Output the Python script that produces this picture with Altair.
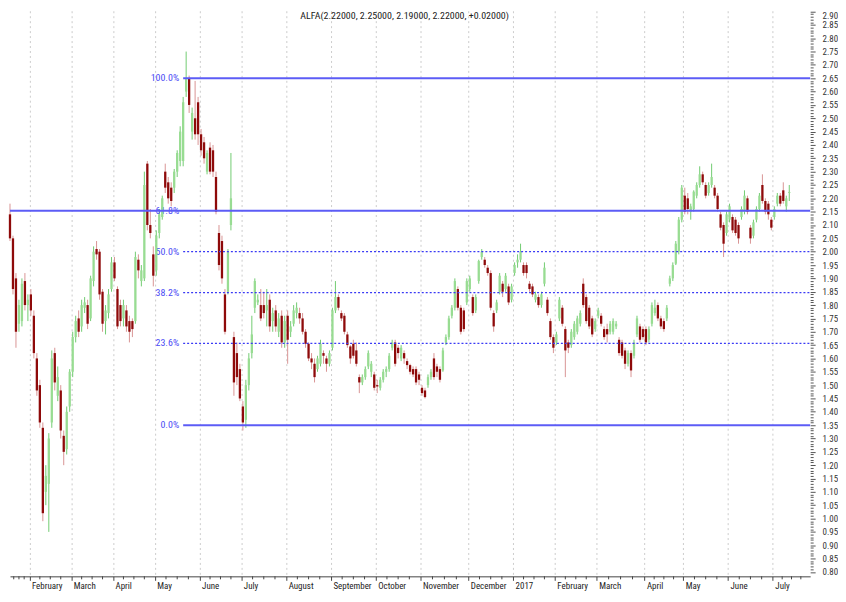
import altair as alt
import pandas as pd

FONT = "Liberation Sans Narrow, Arial Narrow, Roboto Condensed, Noto Sans Condensed, Liberation Sans, Arial, sans-serif"

# candles per month (first = partial January 2016)
month_counts = [7, 14, 14, 14, 15, 14, 15, 15, 15, 15, 16, 15, 14, 14, 16, 13, 15, 15, 6]
month_labels = ["February", "March", "April", "May", "June", "July", "August", "September",
                "October", "November", "December", "2017", "February", "March", "April",
                "May", "June", "July"]

opens = [
    2.14, 2.05, 1.90, 1.73, 1.74, 1.89, 1.80,
    1.84, 1.76, 1.60, 1.50, 1.34, 1.10, 1.13, 1.36, 1.62, 1.46, 1.48, 1.31, 1.26, 1.42,
    1.55, 1.68, 1.75, 1.72, 1.79, 1.80, 1.75, 1.89, 2.01, 2.00, 1.85, 1.74, 1.77, 1.86,
    1.96, 1.86, 1.80, 1.75, 1.78, 1.74, 1.74, 1.74, 1.97, 1.89, 1.90, 2.33, 2.10, 1.99,
    1.93, 2.07, 2.13, 2.30, 2.26, 2.24, 2.24, 2.30, 2.34, 2.34, 2.60, 2.65, 2.45, 2.50, 2.56,
    2.44, 2.41, 2.30, 2.39, 2.38, 2.28, 2.07, 2.04, 1.84, 1.85, 2.10, 1.68, 1.62, 1.56,
    1.42, 1.37, 1.50, 1.62, 1.79, 1.81, 1.80, 1.80, 1.78, 1.82, 1.74, 1.78, 1.70, 1.76, 1.66,
    1.76, 1.70, 1.73, 1.77, 1.77, 1.75, 1.70, 1.655, 1.60, 1.58, 1.56, 1.58, 1.62, 1.60, 1.58,
    1.64, 1.78, 1.83, 1.77, 1.76, 1.69, 1.645, 1.655, 1.63, 1.53, 1.51, 1.53, 1.57, 1.55, 1.54,
    1.50, 1.49, 1.52, 1.55, 1.56, 1.64, 1.66, 1.64, 1.60, 1.62, 1.59, 1.575, 1.56, 1.56, 1.54,
    1.49, 1.48, 1.50, 1.53, 1.60, 1.57, 1.56, 1.555, 1.66, 1.68, 1.76, 1.79, 1.86, 1.79, 1.78, 1.81,
    1.86, 1.83, 1.78, 1.89, 1.98, 1.97, 1.94, 1.92, 1.77, 1.78, 1.85, 1.88, 1.86, 1.87, 1.82,
    1.92, 1.96, 1.97, 1.95, 1.95, 1.88, 1.87, 1.82, 1.83, 1.80, 1.88, 1.82, 1.74, 1.68,
    1.66, 1.75, 1.79, 1.71, 1.66, 1.65, 1.68, 1.70, 1.73, 1.88, 1.83, 1.79, 1.75, 1.71,
    1.76, 1.76, 1.71, 1.71, 1.70, 1.70, 1.72, 1.67, 1.66, 1.63, 1.58, 1.62, 1.61, 1.69, 1.72, 1.71,
    1.71, 1.67, 1.73, 1.77, 1.80, 1.75, 1.74, 1.75, 1.88, 1.90, 1.955, 2.00, 2.12,
    2.21, 2.20, 2.15, 2.16, 2.21, 2.25, 2.29, 2.25, 2.22, 2.25, 2.24, 2.21, 2.14, 2.10, 2.07,
    2.12, 2.13, 2.12, 2.10, 2.13, 2.15, 2.20, 2.09, 2.06, 2.12, 2.16, 2.25, 2.19, 2.18, 2.12,
    2.13, 2.18, 2.21, 2.23, 2.17, 2.22,
]
highs = [
    2.18, 2.06, 1.92, 1.82, 1.90, 1.92, 1.84,
    1.86, 1.78, 1.62, 1.52, 1.36, 1.20, 1.32, 1.63, 1.64, 1.57, 1.50, 1.33, 1.42, 1.56,
    1.70, 1.76, 1.78, 1.82, 1.83, 1.82, 1.91, 2.02, 2.04, 2.01, 1.86, 1.80, 1.86, 1.98,
    1.98, 1.87, 1.82, 1.82, 1.80, 1.76, 1.75, 2.00, 1.99, 1.95, 2.30, 2.34, 2.16, 2.02,
    2.08, 2.16, 2.21, 2.33, 2.28, 2.26, 2.31, 2.38, 2.47, 2.58, 2.75, 2.66, 2.54, 2.64, 2.58,
    2.46, 2.43, 2.38, 2.41, 2.40, 2.30, 2.10, 2.06, 1.86, 2.01, 2.37, 1.70, 1.66, 1.58,
    1.44, 1.52, 1.62, 1.76, 1.90, 1.84, 1.86, 1.85, 1.86, 1.84, 1.79, 1.80, 1.77, 1.78, 1.76,
    1.78, 1.74, 1.80, 1.81, 1.79, 1.77, 1.71, 1.66, 1.62, 1.60, 1.61, 1.67, 1.63, 1.61, 1.63,
    1.79, 1.89, 1.84, 1.78, 1.77, 1.70, 1.65, 1.67, 1.66, 1.54, 1.54, 1.57, 1.63, 1.59, 1.55,
    1.52, 1.53, 1.56, 1.57, 1.62, 1.67, 1.67, 1.65, 1.65, 1.63, 1.60, 1.58, 1.57, 1.57, 1.55,
    1.50, 1.49, 1.54, 1.56, 1.62, 1.58, 1.57, 1.64, 1.69, 1.76, 1.80, 1.90, 1.87, 1.80, 1.79, 1.90,
    1.91, 1.84, 1.84, 1.97, 2.01, 1.98, 1.95, 1.93, 1.78, 1.82, 1.92, 1.89, 1.92, 1.88, 1.88,
    1.96, 1.99, 2.03, 1.96, 1.96, 1.89, 1.88, 1.85, 1.84, 1.85, 1.96, 1.83, 1.75, 1.69,
    1.70, 1.83, 1.80, 1.72, 1.67, 1.71, 1.74, 1.76, 1.78, 1.90, 1.84, 1.80, 1.76, 1.75,
    1.79, 1.77, 1.72, 1.73, 1.74, 1.75, 1.74, 1.68, 1.67, 1.64, 1.63, 1.63, 1.67, 1.76, 1.73, 1.72,
    1.72, 1.72, 1.81, 1.82, 1.81, 1.76, 1.75, 1.80, 1.91, 1.96, 2.04, 2.13, 2.25,
    2.24, 2.22, 2.18, 2.23, 2.26, 2.32, 2.30, 2.26, 2.26, 2.33, 2.25, 2.22, 2.15, 2.11, 2.15,
    2.18, 2.14, 2.13, 2.11, 2.17, 2.23, 2.21, 2.10, 2.12, 2.17, 2.22, 2.29, 2.20, 2.19, 2.13,
    2.17, 2.22, 2.22, 2.26, 2.21, 2.25,
]
lows = [
    2.04, 1.84, 1.64, 1.70, 1.72, 1.78, 1.74,
    1.76, 1.60, 1.46, 1.34, 0.99, 1.05, 0.95, 1.34, 1.48, 1.44, 1.30, 1.20, 1.24, 1.40,
    1.53, 1.66, 1.68, 1.70, 1.77, 1.71, 1.74, 1.87, 1.97, 1.82, 1.70, 1.69, 1.75, 1.85,
    1.89, 1.71, 1.72, 1.72, 1.70, 1.66, 1.68, 1.73, 1.90, 1.87, 1.89, 2.08, 2.05, 1.87,
    1.91, 2.05, 2.12, 2.22, 2.18, 2.17, 2.22, 2.28, 2.32, 2.32, 2.58, 2.52, 2.42, 2.42, 2.40,
    2.36, 2.33, 2.29, 2.29, 2.28, 2.14, 1.93, 1.88, 1.69, 1.84, 2.08, 1.46, 1.50, 1.44,
    1.33, 1.34, 1.48, 1.60, 1.77, 1.80, 1.74, 1.75, 1.72, 1.70, 1.70, 1.70, 1.68, 1.64, 1.64,
    1.58, 1.68, 1.72, 1.75, 1.73, 1.69, 1.64, 1.59, 1.56, 1.51, 1.55, 1.57, 1.58, 1.55, 1.57,
    1.63, 1.77, 1.78, 1.74, 1.69, 1.64, 1.58, 1.60, 1.57, 1.47, 1.50, 1.52, 1.56, 1.53, 1.48,
    1.47, 1.48, 1.51, 1.53, 1.55, 1.63, 1.57, 1.60, 1.59, 1.58, 1.56, 1.54, 1.53, 1.50, 1.50,
    1.46, 1.45, 1.49, 1.52, 1.52, 1.53, 1.51, 1.55, 1.65, 1.67, 1.75, 1.78, 1.78, 1.69, 1.70, 1.80,
    1.85, 1.76, 1.77, 1.88, 1.97, 1.94, 1.91, 1.78, 1.70, 1.77, 1.84, 1.83, 1.85, 1.80, 1.81,
    1.91, 1.94, 1.96, 1.91, 1.90, 1.85, 1.83, 1.81, 1.79, 1.79, 1.87, 1.76, 1.67, 1.62,
    1.65, 1.74, 1.72, 1.53, 1.62, 1.64, 1.67, 1.69, 1.72, 1.79, 1.73, 1.71, 1.68, 1.70,
    1.75, 1.72, 1.67, 1.66, 1.69, 1.69, 1.71, 1.61, 1.60, 1.56, 1.57, 1.53, 1.60, 1.68, 1.66, 1.67,
    1.65, 1.66, 1.72, 1.76, 1.74, 1.71, 1.70, 1.74, 1.87, 1.89, 1.95, 1.99, 2.11,
    2.14, 2.14, 2.12, 2.15, 2.20, 2.24, 2.25, 2.20, 2.21, 2.24, 2.20, 2.15, 2.08, 1.98, 2.06,
    2.11, 2.07, 2.06, 2.03, 2.12, 2.14, 2.14, 2.03, 2.05, 2.11, 2.15, 2.18, 2.14, 2.12, 2.08,
    2.12, 2.17, 2.17, 2.18, 2.15, 2.19,
]
closes = [
    2.05, 1.86, 1.70, 1.80, 1.88, 1.80, 1.82,
    1.78, 1.62, 1.48, 1.36, 1.02, 1.16, 1.30, 1.60, 1.51, 1.53, 1.33, 1.25, 1.40, 1.55,
    1.68, 1.74, 1.70, 1.80, 1.81, 1.73, 1.90, 2.00, 1.99, 1.84, 1.73, 1.78, 1.84, 1.96,
    1.90, 1.72, 1.74, 1.80, 1.72, 1.70, 1.71, 1.98, 1.93, 1.93, 2.25, 2.10, 2.07, 1.91,
    2.06, 2.14, 2.20, 2.24, 2.20, 2.19, 2.30, 2.37, 2.45, 2.56, 2.65, 2.55, 2.52, 2.44, 2.44,
    2.38, 2.35, 2.37, 2.30, 2.30, 2.15, 1.95, 1.90, 1.70, 2.00, 2.20, 1.51, 1.53, 1.45,
    1.36, 1.50, 1.60, 1.69, 1.89, 1.82, 1.75, 1.77, 1.80, 1.72, 1.77, 1.72, 1.75, 1.66, 1.74,
    1.67, 1.72, 1.78, 1.79, 1.75, 1.70, 1.655, 1.60, 1.585, 1.53, 1.60, 1.655, 1.61, 1.58, 1.62,
    1.78, 1.83, 1.79, 1.75, 1.70, 1.65, 1.60, 1.61, 1.58, 1.51, 1.53, 1.56, 1.62, 1.58, 1.49,
    1.495, 1.52, 1.55, 1.56, 1.61, 1.66, 1.58, 1.62, 1.64, 1.60, 1.575, 1.55, 1.54, 1.51, 1.52,
    1.47, 1.455, 1.53, 1.55, 1.53, 1.55, 1.52, 1.63, 1.68, 1.75, 1.79, 1.89, 1.79, 1.70, 1.71, 1.89,
    1.90, 1.77, 1.83, 1.965, 2.00, 1.95, 1.92, 1.79, 1.72, 1.81, 1.91, 1.85, 1.91, 1.81, 1.87,
    1.95, 1.97, 2.00, 1.92, 1.92, 1.86, 1.84, 1.84, 1.80, 1.84, 1.94, 1.77, 1.68, 1.64,
    1.69, 1.82, 1.73, 1.63, 1.64, 1.70, 1.73, 1.75, 1.77, 1.80, 1.74, 1.72, 1.69, 1.74,
    1.78, 1.73, 1.68, 1.69, 1.73, 1.74, 1.73, 1.62, 1.61, 1.58, 1.62, 1.555, 1.66, 1.75, 1.67, 1.68,
    1.66, 1.71, 1.80, 1.79, 1.75, 1.72, 1.71, 1.79, 1.90, 1.95, 2.03, 2.12, 2.24,
    2.15, 2.16, 2.17, 2.225, 2.25, 2.29, 2.26, 2.21, 2.25, 2.28, 2.21, 2.16, 2.09, 2.03, 2.14,
    2.17, 2.08, 2.07, 2.05, 2.16, 2.21, 2.15, 2.05, 2.11, 2.16, 2.21, 2.19, 2.15, 2.14, 2.09,
    2.16, 2.21, 2.18, 2.19, 2.20, 2.22,
]

symbol = "ALFA"
fib_high = 2.65
fib_low = 1.35
fib_pcts = [100.0, 61.8, 50.0, 38.2, 23.6, 0.0]
fib_dotted = [False, False, True, True, True, False]
fib_full_width = [False, True, False, False, False, False]

# ---------------------------------------------------------------- data frames
n = len(closes)
assert len(opens) == n and len(highs) == n and len(lows) == n, (len(opens), len(highs), len(lows), n)
assert sum(month_counts) == n, (sum(month_counts), n)

df = pd.DataFrame({"i": list(range(n)), "o": opens, "h": highs, "l": lows, "c": closes})
df["dir"] = ["up" if c >= o else "down" for o, c in zip(opens, closes)]
df["lo"] = df[["o", "c"]].min(axis=1)
df["hi"] = df[["o", "c"]].max(axis=1)
df["hi"] = df["hi"].where(df["hi"] - df["lo"] > 0.004, df["lo"] + 0.004)

W, H = 805, 569
PX_PER_UNIT = 268.45
X_MIN, X_MAX = 0.0, 268.0
Y_MAX = 2.903
Y_MIN = Y_MAX - H / PX_PER_UNIT

# month boundaries
bounds = []
acc = 0
for cnt in month_counts[:-1]:
    acc += cnt
    bounds.append(acc - 0.5)
all_bounds = [-0.5] + bounds + [X_MAX]
minor = []
for a, b in zip(all_bounds[:-1], all_bounds[1:]):
    for k in (1, 2, 3):
        minor.append(a + (b - a) * k / 4)
minor_df = pd.DataFrame({"m": minor})

pos_js = "[" + ",".join(repr(float(p)) for p in bounds) + "]"
lab_js = "[" + ",".join("'" + s + "'" for s in month_labels) + "]"
x_label_expr = f"{lab_js}[indexof({pos_js}, datum.value)]"

peak_i = int(df["h"].idxmax())
fib_start = peak_i - 1.0
fib = pd.DataFrame({
    "pct": fib_pcts,
    "price": [fib_low + p / 100.0 * (fib_high - fib_low) for p in fib_pcts],
    "dotted": fib_dotted,
    "label": [f"{p:.1f}%" for p in fib_pcts],
    "x0": [X_MIN if f else fib_start for f in fib_full_width],
    "x1": [X_MAX] * len(fib_pcts),
    "xl": [fib_start] * len(fib_pcts),
})

last = df.iloc[-1]
chg = closes[-1] - closes[-2]
title_txt = (f"{symbol}({last['o']:.5f}, {last['h']:.5f}, {last['l']:.5f}, "
             f"{last['c']:.5f}, {'+' if chg >= 0 else ''}{chg:.5f})")
title_df = pd.DataFrame({"t": [title_txt]})

y_values = [round(0.80 + 0.01 * k, 2) for k in range(211)]

xs = alt.Scale(domain=[X_MIN, X_MAX], nice=False, zero=False, padding=0)
ys = alt.Scale(domain=[Y_MIN, Y_MAX], nice=False, zero=False, padding=0)

x_axis = alt.Axis(
    values=bounds, labelExpr=x_label_expr, orient="bottom", title=None,
    labelAlign="left", labelOffset=2, labelPadding=1, labelFontSize=9,
    labelColor="#222222", labelFont=FONT, labelFlush=False, labelOverlap=False,
    tickSize=4, tickColor="#444444", domainColor="#444444",
    grid=True, gridDash=[2, 3], gridColor="#cccccc", gridWidth=1,
)
y_axis = alt.Axis(
    values=y_values, orient="right", title=None,
    labelExpr="(round(datum.value*100) % 5 == 0) ? format(datum.value, '.2f') : ''",
    labelFontSize=9, labelColor="#333333", labelFont=FONT, labelPadding=7,
    labelOverlap=False, labelFlush=2,
    tickSize=alt.condition("round(datum.value*100) % 5 == 0", alt.value(5), alt.value(3)),
    tickColor="#555555", domain=False, grid=False,
)

base = alt.Chart(df)

wicks = base.mark_rule(strokeWidth=1).encode(
    x=alt.X("i:Q", scale=xs, axis=x_axis),
    y=alt.Y("l:Q", scale=ys, axis=y_axis),
    y2="h:Q",
    stroke=alt.Stroke("dir:N", scale=alt.Scale(domain=["up", "down"], range=["#72cc72", "#d99494"]), legend=None),
)
bodies = base.mark_bar(width=2.3, strokeWidth=0).encode(
    x=alt.X("i:Q", scale=xs, axis=x_axis),
    y=alt.Y("lo:Q", scale=ys, axis=y_axis),
    y2="hi:Q",
    fill=alt.Fill("dir:N", scale=alt.Scale(domain=["up", "down"], range=["#98dc92", "#8e0a0a"]), legend=None),
)

fib_solid = alt.Chart(fib[~fib["dotted"]]).mark_rule(color="#5c5cf6", strokeWidth=2).encode(
    x=alt.X("x0:Q", scale=xs, axis=x_axis), x2="x1:Q",
    y=alt.Y("price:Q", scale=ys, axis=y_axis),
)
fib_dot = alt.Chart(fib[fib["dotted"]]).mark_rule(color="#3a3af5", strokeWidth=1.3, strokeDash=[2, 2]).encode(
    x=alt.X("x0:Q", scale=xs, axis=x_axis), x2="x1:Q",
    y=alt.Y("price:Q", scale=ys, axis=y_axis),
)
fib_text = alt.Chart(fib).mark_text(align="right", baseline="middle", dx=-4, fontSize=10,
                                    font=FONT, color="#4b4bf5").encode(
    x=alt.X("xl:Q", scale=xs, axis=x_axis),
    y=alt.Y("price:Q", scale=ys, axis=y_axis),
    text="label:N",
)

title_mark = alt.Chart(title_df).mark_text(align="center", baseline="top", fontSize=10,
                                           font=FONT, color="#222222").encode(
    x=alt.value(397), y=alt.value(0), text="t:N",
)

minor_ticks = alt.Chart(minor_df).mark_rule(color="#444444", strokeWidth=1).encode(
    x=alt.X("m:Q", scale=xs, axis=x_axis),
    y=alt.value(H), y2=alt.value(H + 3),
)

chart = alt.layer(
    wicks, fib_text, bodies, fib_solid, fib_dot, title_mark, minor_ticks
).properties(
    width=W, height=H, padding=0, background="white"
).configure_view(stroke=None)

chart.save("out.html", embed_options={"renderer": "svg", "actions": False})
